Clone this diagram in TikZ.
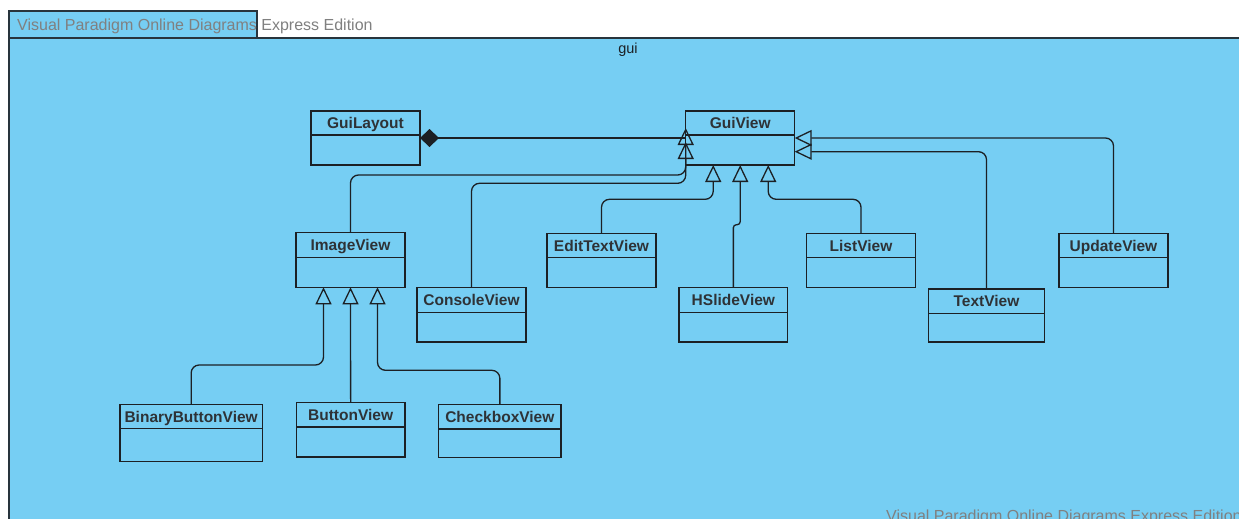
\documentclass[tikz,border=0pt]{standalone}
\usepackage{fontspec}
\setmainfont{Liberation Sans}
\usetikzlibrary{arrows.meta,calc}

\definecolor{pkgblue}{RGB}{118,206,243}
\definecolor{ink}{RGB}{28,32,36}
\definecolor{framegray}{RGB}{40,52,60}
\definecolor{wmgray}{RGB}{128,128,128}

% UML class: name, left, top, right, divider, bottom, label
\newcommand\umlclass[7]{%
  \node[classbox, anchor=north west,
        minimum width={(#4-#2)*1pt}, minimum height={(#6-#3)*1pt}] (#1) at (#2,#3) {};
  \draw[classline] (#2,#5) -- (#4,#5);
  \node[classname] (#1-name) at ({(#2+#4)/2},{(#3+#5)/2}) {#7};
}

\tikzset{
  classbox/.style={draw=ink, line width=1.3pt, fill=pkgblue, inner sep=0pt, outer sep=0pt},
  classline/.style={draw=ink, line width=1.3pt},
  classname/.style={font=\fontsize{15.5}{18}\selectfont\bfseries, text=ink!92, inner sep=0pt,
                    text height=11pt, text depth=0pt},
  gen/.style={draw=ink, line width=1.3pt, rounded corners=8pt,
              -{Triangle[open, length=17pt, width=16pt]}},
  comp/.style={draw=ink, line width=1.3pt, {Diamond[length=19pt, width=18pt]}-},
  wmtext/.style={font=\fontsize{16}{19}\selectfont, text=wmgray, inner sep=0pt},
}

\begin{document}
\begin{tikzpicture}[x=1pt, y=-1pt]
  \useasboundingbox (0,0) rectangle (1239,519);
  \fill[white] (0,0) rectangle (1239,519);
  \clip (0,0) rectangle (1239,519);

  % package frame with its tab
  \fill[pkgblue] (9,38) rectangle (1260,540);
  \draw[framegray, line width=1.3pt] (9,540) -- (9,38) -- (1260,38);
  \filldraw[fill=pkgblue, draw=framegray, line width=1.3pt] (9,11) rectangle (257,38);
  \node[font=\fontsize{14.5}{17}\selectfont, text=ink, inner sep=0pt, anchor=base] (pkgtitle) at (628,54) {gui};

  % classes
  \umlclass{guilayout}{311}{111}{420}{135}{165}{GuiLayout}
  \umlclass{guiview}{685.7}{111}{794.7}{135}{165}{GuiView}
  \umlclass{imageview}{296}{232.7}{405}{257.7}{287.3}{ImageView}
  \umlclass{consoleview}{417}{287.7}{526}{312.3}{342}{ConsoleView}
  \umlclass{edittextview}{547}{233.3}{656}{257.7}{287.7}{EditTextView}
  \umlclass{hslideview}{679}{287.7}{787.7}{312.3}{342}{HSlideView}
  \umlclass{listview}{806.7}{233.3}{915.3}{257.7}{287.7}{ListView}
  \umlclass{textview}{928.7}{289}{1044.3}{313.7}{342}{TextView}
  \umlclass{updateview}{1059}{233.3}{1168}{257.7}{287.7}{UpdateView}
  \umlclass{binarybuttonview}{120}{404.3}{262.3}{428.7}{461.7}{BinaryButtonView}
  \umlclass{buttonview}{296.3}{402.7}{405}{427}{457}{ButtonView}
  \umlclass{checkboxview}{438.7}{404.3}{561}{429}{457.3}{CheckboxView}

  % composition
  \draw[comp] (guilayout.east) -- (guiview.west);

  % generalizations into GuiView
  \draw[gen] (imageview.north) -- ++(0,-57.7) -| ([yshift=-4pt]guiview.west);
  \draw[gen] (consoleview.north) -- ++(0,-104.4) -| ([yshift=10pt]guiview.west);
  \draw[gen] (edittextview.north) -- ++(0,-34) -| ([xshift=-27pt]guiview.south);
  \draw[gen, rounded corners=3pt] (hslideview.north) -- ++(0,-63) -| (guiview.south);
  \draw[gen] (listview.north) -- ++(0,-34) -| ([xshift=28pt]guiview.south);
  \draw[gen] (textview.north) |- ([yshift=-13.7pt]guiview.east);
  \draw[gen] (updateview.north) |- (guiview.east);

  % generalizations into ImageView
  \draw[gen] (binarybuttonview.north) -- ++(0,-39.3) -| ([xshift=-27pt]imageview.south);
  \draw[gen] (buttonview.north) -- (imageview.south);
  \draw[gen] (checkboxview.north) -- ++(0,-34) -| ([xshift=27pt]imageview.south);

  % edition marks
  \node[wmtext, anchor=base west] (wmtop) at (17,30.7) {Visual Paradigm Online Diagrams Express Edition};
  \node[wmtext, anchor=base west] (wmbottom) at (886,521) {Visual Paradigm Online Diagrams Express Edition};
\end{tikzpicture}
\end{document}
